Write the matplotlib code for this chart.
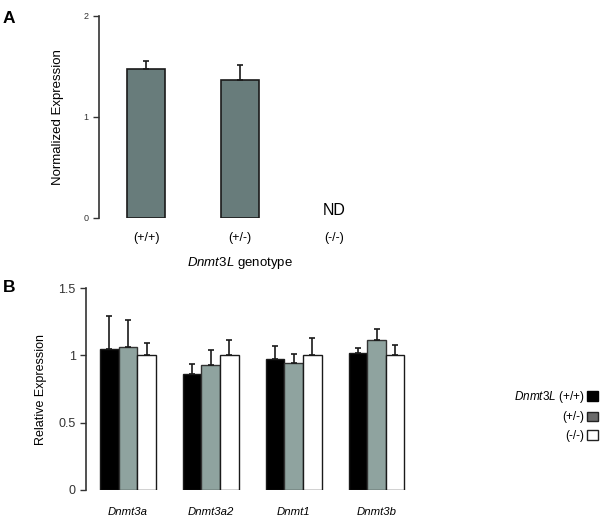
import matplotlib
matplotlib.use("Agg")
import matplotlib.pyplot as plt
from matplotlib.patches import Patch
import numpy as np

plt.rcParams['font.family'] = ['Liberation Sans', 'DejaVu Sans']
plt.rcParams['mathtext.fontset'] = 'custom'
plt.rcParams['mathtext.it'] = 'Liberation Sans:italic'
plt.rcParams['mathtext.rm'] = 'Liberation Sans'

# panel A data
genotypes = ['(+/+)', '(+/-)', '(-/-)']
norm_expr = [1.475, 1.37]
norm_err = [0.075, 0.14]

# panel B data
genes = ['Dnmt3a', 'Dnmt3a2', 'Dnmt1', 'Dnmt3b']
rel_wt = [1.047, 0.86, 0.977, 1.017]
rel_het = [1.06, 0.93, 0.947, 1.118]
rel_ko = [1.0, 1.0, 1.0, 1.0]
err_wt = [0.243, 0.075, 0.093, 0.042]
err_het = [0.205, 0.11, 0.063, 0.078]
err_ko = [0.09, 0.115, 0.133, 0.079]

fig = plt.figure(figsize=(6, 5.2), dpi=100)

def style_axis(ax, top):
    for s in ['top', 'right', 'bottom']:
        ax.spines[s].set_visible(False)
    ax.spines['left'].set_linewidth(1.2)
    ax.spines['left'].set_color('#333333')
    ax.spines['left'].set_bounds(0, top)
    ax.tick_params(axis='y', direction='out', length=4, width=1, colors='#333333')
    ax.tick_params(axis='x', length=0)

# ---- A ----
axA = fig.add_axes([0.165, 0.5808, 0.47, 0.3885])
xa = np.arange(len(norm_expr))
axA.bar(xa, norm_expr, width=0.404, color='#687c7b', edgecolor='#1a1a1a', linewidth=1.2,
        yerr=[np.zeros(len(norm_err)), norm_err],
        error_kw=dict(ecolor='#1a1a1a', elinewidth=1.2, capsize=2.5, capthick=1.2))
axA.set_xlim(-0.5, 2.5)
axA.set_ylim(0, 2)
axA.set_yticks([0, 1, 2])
axA.set_yticklabels(['0', '1', '2'], fontsize=6.5)
axA.set_xticks(range(len(genotypes)))
axA.set_xticklabels(genotypes, fontsize=9)
axA.tick_params(axis='x', pad=10)
style_axis(axA, 2)
axA.text(2, 0.0, 'ND', ha='center', va='bottom', fontsize=11.5, clip_on=False)
axA.set_ylabel('Normalized Expression', fontsize=9.5, labelpad=14)
axA.set_xlabel(r'$\it{Dnmt3L}$ genotype', fontsize=9.5, labelpad=8)
fig.text(0.005, 0.965, 'A', fontsize=12.5, fontweight='bold', va='center')

# ---- B ----
axB = fig.add_axes([0.1433, 0.0577, 0.5533, 0.388])
xb = np.arange(len(genes))
w = 0.225
ekw = dict(ecolor='#1a1a1a', elinewidth=1.2, capsize=2.2, capthick=1.2)
zero = np.zeros(len(genes))
axB.bar(xb - w, rel_wt, width=w, color='black', edgecolor='#1a1a1a', linewidth=1,
        yerr=[zero, err_wt], error_kw=ekw)
axB.bar(xb, rel_het, width=w, color='#8fa39f', edgecolor='#333333', linewidth=1,
        yerr=[zero, err_het], error_kw=ekw)
axB.bar(xb + w, rel_ko, width=w, color='white', edgecolor='#1a1a1a', linewidth=1,
        yerr=[zero, err_ko], error_kw=ekw)
axB.set_xlim(-0.506, 3.5)
axB.set_ylim(0, 1.5)
axB.set_yticks([0, 0.5, 1, 1.5])
axB.set_yticklabels(['0', '0.5', '1', '1.5'], fontsize=9)
axB.set_xticks(xb)
axB.set_xticklabels(genes, fontsize=8.2, style='italic')
axB.tick_params(axis='x', pad=12)
style_axis(axB, 1.5)
axB.set_ylabel('Relative Expression', fontsize=9, labelpad=8)
fig.text(0.005, 0.447, 'B', fontsize=12.5, fontweight='bold', va='center')

handles = [Patch(facecolor='black', edgecolor='black'),
           Patch(facecolor='#6b6b6b', edgecolor='#222222'),
           Patch(facecolor='white', edgecolor='#222222')]
labels = [r'$\it{Dnmt3L}$ (+/+)', '(+/-)', '(-/-)']
fig.legend(handles, labels, loc='center right', bbox_to_anchor=(1.0, 0.201),
           frameon=False, markerfirst=False, fontsize=8.5, handlelength=0.9,
           handleheight=0.9, handletextpad=0.2, labelspacing=0.55,
           borderpad=0.1, borderaxespad=0.1)

fig.savefig('out.png', dpi=100)
